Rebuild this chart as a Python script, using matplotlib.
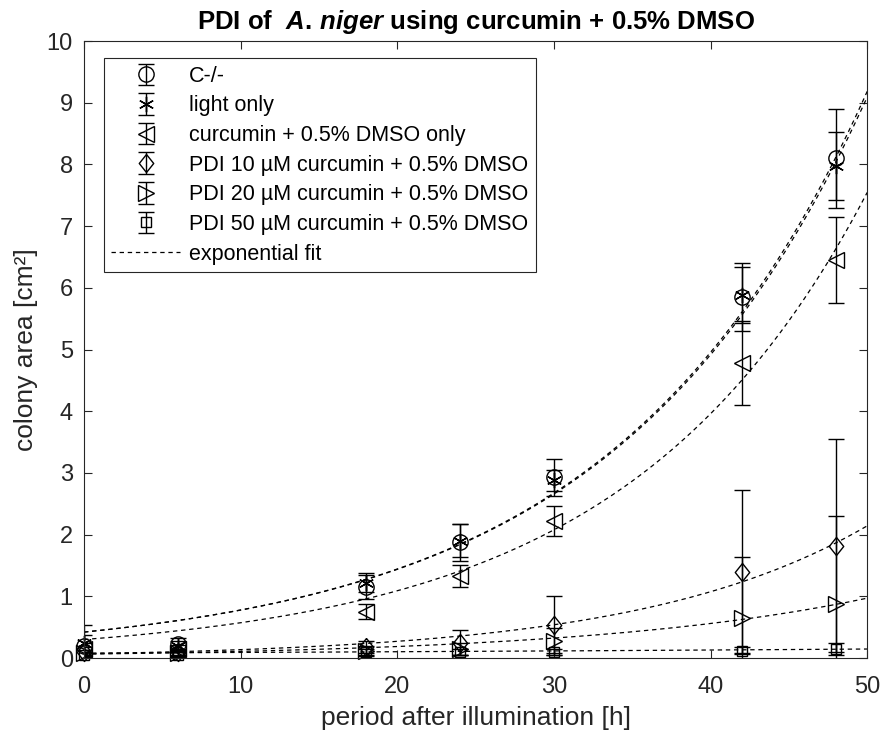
import numpy as np
import matplotlib
matplotlib.use("Agg")
import matplotlib.pyplot as plt

plt.rcParams['font.family'] = ['Liberation Sans', 'DejaVu Sans']
plt.rcParams['mathtext.fontset'] = 'custom'
plt.rcParams['mathtext.it'] = 'Liberation Sans:italic:bold'
plt.rcParams['mathtext.rm'] = 'Liberation Sans:bold'

# tempos [h]
horas = [0, 6, 18, 24, 30, 42, 48]

# area media da colonia [cm^2] e desvio
c_neg = [0.20, 0.22, 1.15, 1.88, 2.93, 5.85, 8.10]
c_neg_err = [0.33, 0.10, 0.20, 0.30, 0.30, 0.55, 0.80]
luz = [0.25, 0.20, 1.22, 1.90, 2.88, 5.88, 7.97]
luz_err = [0.12, 0.08, 0.15, 0.27, 0.17, 0.45, 0.55]
curc = [0.15, 0.15, 0.75, 1.33, 2.22, 4.78, 6.45]
curc_err = [0.10, 0.06, 0.12, 0.18, 0.25, 0.68, 0.70]
pdi10 = [0.10, 0.10, 0.18, 0.25, 0.53, 1.40, 1.82]
pdi10_err = [0.08, 0.05, 0.10, 0.20, 0.48, 1.32, 1.73]
pdi20 = [0.08, 0.08, 0.12, 0.15, 0.28, 0.65, 0.87]
pdi20_err = [0.05, 0.05, 0.08, 0.10, 0.20, 0.98, 1.43]
pdi50 = [0.05, 0.05, 0.10, 0.10, 0.10, 0.12, 0.15]
pdi50_err = [0.04, 0.04, 0.05, 0.05, 0.05, 0.06, 0.10]

nomes = ["C-/-", "light only", "curcumin + 0.5% DMSO only",
         "PDI 10 µM curcumin + 0.5% DMSO", "PDI 20 µM curcumin + 0.5% DMSO",
         "PDI 50 µM curcumin + 0.5% DMSO"]

# parametros do ajuste exponencial  y = a*exp(b*t)
fit_a = [0.42, 0.42, 0.30, 0.068, 0.062, 0.08]
fit_b = [0.0617, 0.0615, 0.0645, 0.069, 0.055, 0.012]

series = [(c_neg, c_neg_err), (luz, luz_err), (curc, curc_err),
          (pdi10, pdi10_err), (pdi20, pdi20_err), (pdi50, pdi50_err)]
losango = [(0, 1), (0.8, 0), (0, -1), (-0.8, 0), (0, 1)]
marcadores = ['o', (6, 2, 0), '<', losango, '>', 's']
tamanhos = [11, 11, 12, 13, 12, 7.5]

fig = plt.figure(figsize=(8.84, 7.33), dpi=100)
ax = fig.add_axes([0.095, 0.1023, 0.886, 0.8417])

handles = []
for (y, e), m, ms in zip(series, marcadores, tamanhos):
    h = ax.errorbar(horas, y, yerr=e, marker=m, linestyle='none',
                    markersize=ms, markerfacecolor='none', markeredgecolor='black',
                    markeredgewidth=1, ecolor='black', elinewidth=1,
                    capsize=5.5, capthick=1)
    # marcador nao cortado na borda (como no MATLAB)
    h[0].set_clip_on(False)
    handles.append(h)

t = np.linspace(0, 50, 200)
for a, b in zip(fit_a, fit_b):
    linha, = ax.plot(t, a * np.exp(b * t), linestyle=(0, (3.5, 3)), color='black',
                     linewidth=0.9)

ax.set_xlim(0, 50)
ax.set_ylim(0, 10)
ax.set_xticks(range(0, 51, 10))
ax.set_yticks(range(0, 11))
ax.tick_params(direction='in', top=True, right=True, labelsize=17, length=6,
               colors='#262626')
ax.tick_params(axis='x', pad=13)
ax.tick_params(axis='y', pad=8)
for s in ax.spines.values():
    s.set_color('#262626')
ax.set_xlabel("period after illumination [h]", fontsize=19, color='#262626',
              labelpad=6)
ax.set_ylabel("colony area [cm²]", fontsize=19, color='#262626', labelpad=6)
ax.set_title(r"PDI of  $A.$$\,$$niger$ using curcumin + 0.5% DMSO",
             fontsize=18.5, fontweight='bold', pad=9)

leg = ax.legend(handles + [linha], nomes + ["exponential fit"], loc='upper left',
                bbox_to_anchor=(0.0255, 0.972), fontsize=15.5, frameon=True,
                fancybox=False, edgecolor='#262626', framealpha=1, numpoints=1,
                handlelength=3.2, handletextpad=0.4, labelspacing=0.4,
                borderaxespad=0, borderpad=0.35)
leg.get_frame().set_linewidth(0.8)

fig.savefig("out.png", dpi=100)
